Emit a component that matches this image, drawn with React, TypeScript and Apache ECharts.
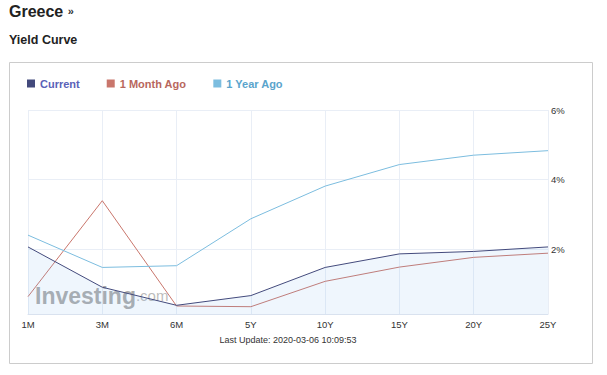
import React, { useEffect, useRef } from "react";
import * as echarts from "echarts";

const categories = ["1M", "3M", "6M", "5Y", "10Y", "15Y", "20Y", "25Y"];
const currentValues = [2.06, 0.9, 0.38, 0.66, 1.47, 1.86, 1.93, 2.06];
const monthAgoValues = [0.63, 3.39, 0.36, 0.34, 1.07, 1.48, 1.76, 1.88];
const yearAgoValues = [2.4, 1.47, 1.52, 2.87, 3.81, 4.43, 4.7, 4.83];
const yTicks = [2, 4, 6];
const seriesNames = ["Current", "1 Month Ago", "1 Year Ago"];
const lastUpdate = "Last Update: 2020-03-06 10:09:53";

const FONT = "'Liberation Sans', Arial, sans-serif";

export default function App() {
  const ref = useRef<HTMLDivElement>(null);
  useEffect(() => {
    document.body.style.margin = "0";
    const chart = echarts.init(ref.current!, null, { renderer: "svg" });
    const lineColors = ["#434a7c", "#c9766c", "#7cbddf"];
    const legendTextColors = ["#5a62b8", "#b8675d", "#5aa4cc"];
    chart.setOption({
      animation: false,
      textStyle: { fontFamily: FONT },
      title: [
        {
          text: "Greece {a|»}",
          left: 9,
          top: 3,
          padding: 0,
          textStyle: {
            fontSize: 16,
            fontWeight: "bold",
            color: "#222",
            fontFamily: FONT,
            rich: { a: { fontSize: 11, fontWeight: "bold", color: "#333", fontFamily: FONT } },
          },
        },
        {
          text: "Yield Curve",
          left: 9,
          top: 33,
          padding: 0,
          textStyle: { fontSize: 12.5, fontWeight: "bold", color: "#222", fontFamily: FONT },
        },
      ],
      legend: {
        left: 27,
        top: 78,
        padding: 0,
        icon: "rect",
        itemWidth: 8,
        itemHeight: 8,
        itemGap: 27,
        data: seriesNames.map((n, i) => ({
          name: n,
          textStyle: { color: legendTextColors[i], fontSize: 11, fontWeight: "bold", fontFamily: FONT },
        })),
      },
      grid: { left: 28, right: 59, top: 110, bottom: 61 },
      xAxis: {
        type: "category",
        data: categories,
        boundaryGap: false,
        axisLine: { show: true, lineStyle: { color: "#d9e2ef", width: 1 } },
        axisTick: { show: false },
        splitLine: { show: true, lineStyle: { color: "#e9eef6", width: 1 } },
        axisLabel: { color: "#333", fontSize: 9.5, margin: 5, fontFamily: FONT },
      },
      yAxis: {
        type: "value",
        position: "right",
        min: 0.13,
        max: 6,
        axisLine: { show: false },
        axisTick: { show: false, customValues: yTicks },
        splitLine: { show: true, lineStyle: { color: "#e9eef6", width: 1 } },
        axisLabel: {
          customValues: yTicks,
          formatter: (v: number) => v + "%",
          color: "#333",
          fontSize: 9.5,
          margin: 3,
          fontFamily: FONT,
        },
      },
      graphic: [
        {
          type: "rect",
          shape: { x: 9.5, y: 62.5, width: 583, height: 301 },
          style: { fill: "none", stroke: "#cccccc", lineWidth: 1 },
          silent: true,
        },
        {
          type: "text",
          z: 1,
          x: 35,
          y: 307,
          style: {
            text: "{a|Investing}{b|.com}",
            textVerticalAlign: "bottom",
            fill: "rgba(150,150,150,0.8)",
            rich: {
              a: { fontSize: 23, fontWeight: "bold", fontFamily: FONT, fill: "rgba(150,150,150,0.8)" },
              b: { fontSize: 15, fontFamily: FONT, fill: "rgba(165,165,165,0.75)", padding: [0, 0, 1, 0] },
            },
          },
          silent: true,
        },
        {
          type: "text",
          x: 288,
          y: 340,
          style: {
            text: lastUpdate,
            font: "9px " + FONT,
            fill: "#333",
            textAlign: "center",
            textVerticalAlign: "middle",
          },
          silent: true,
        },
      ],
      series: [
        {
          name: seriesNames[0],
          type: "line",
          data: currentValues,
          showSymbol: false,
          z: 4,
          lineStyle: { color: lineColors[0], width: 1 },
          itemStyle: { color: lineColors[0] },
          areaStyle: { color: "#7cb5ec", opacity: 0.12, origin: "start" },
        },
        {
          name: seriesNames[1],
          type: "line",
          data: monthAgoValues,
          showSymbol: false,
          z: 3,
          lineStyle: { color: lineColors[1], width: 1 },
          itemStyle: { color: lineColors[1] },
        },
        {
          name: seriesNames[2],
          type: "line",
          data: yearAgoValues,
          showSymbol: false,
          z: 3,
          lineStyle: { color: lineColors[2], width: 1 },
          itemStyle: { color: lineColors[2] },
        },
      ],
    });
    return () => chart.dispose();
  }, []);
  return (
    <div
      ref={ref}
      style={{ width: 607, height: 375, position: "absolute", left: 0, top: 0 }}
    />
  );
}
